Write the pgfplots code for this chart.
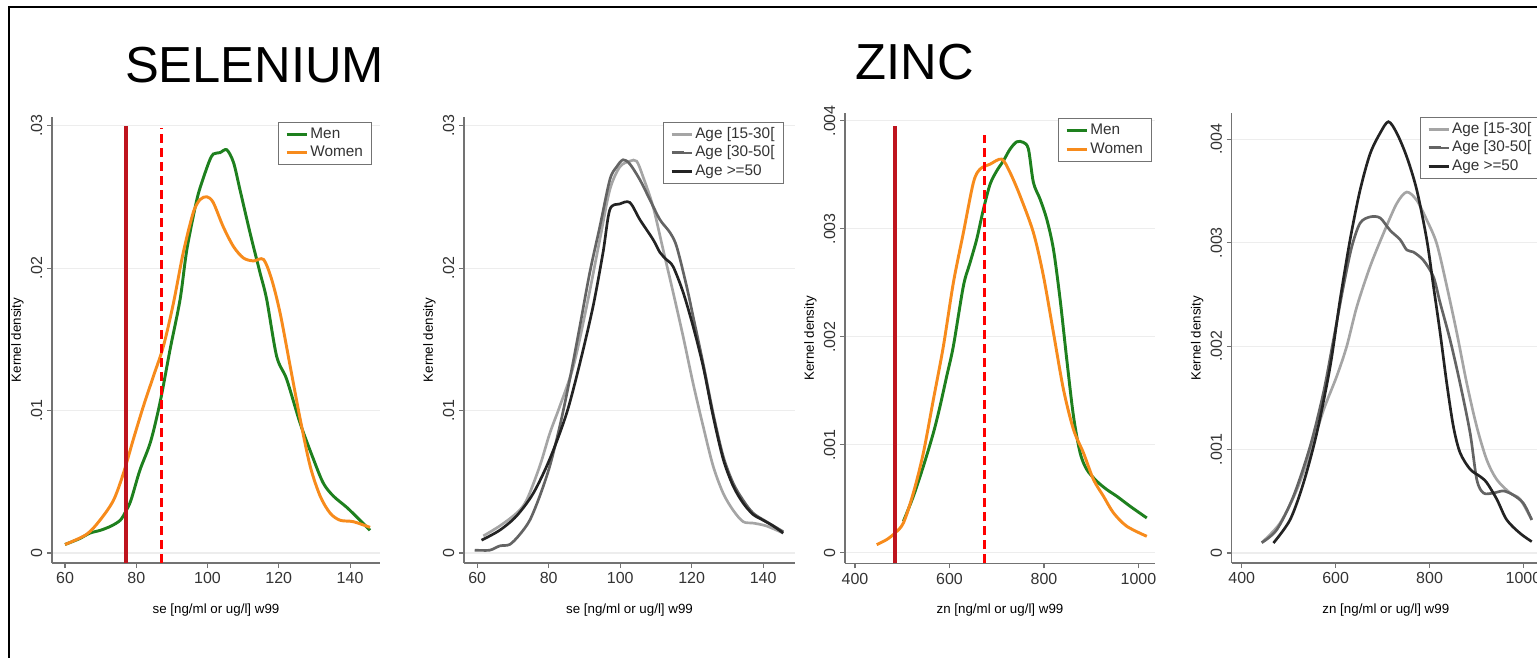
\documentclass[border=0pt]{standalone}
\usepackage{pgfplots}
\pgfplotsset{compat=1.18}
\usepackage{fontspec}
\setmainfont{Liberation Sans}
\definecolor{sgreen}{RGB}{30,128,30}
\definecolor{sorange}{RGB}{247,139,28}
\definecolor{sdarkred}{RGB}{190,20,30}
\definecolor{sred}{RGB}{255,0,0}
\definecolor{glight}{RGB}{165,165,165}
\definecolor{gmed}{RGB}{100,100,100}
\definecolor{gdark}{RGB}{35,35,35}
\pgfplotsset{
 stata/.style={
  scale only axis,
  axis x line*=bottom, axis y line*=left,
  axis line style={draw=black!55, line width=0.8pt, -},
  tick align=outside, major tick length=3.75pt,
  tick style={draw=black!55, line width=0.8pt},
  ymajorgrids, major grid style={draw=black!7, line width=0.8pt},
  enlargelimits=false,
  scaled x ticks=false, scaled y ticks=false,
  ticklabel style={font=\fontsize{12}{13}\selectfont, text=black!80},
  yticklabel style={rotate=90, anchor=south},
  label style={font=\fontsize{12}{13}\selectfont, text=black!80},
  every axis x label/.style={at={(axis description cs:0.5,0)}, yshift=-35pt, anchor=center},
  every axis y label/.style={at={(axis description cs:0,0.5)}, xshift=-26pt, rotate=90, anchor=center},
  ylabel={Kernel density},
  legend style={draw=black!55, line width=0.8pt, fill=white, anchor=north west,
    font=\fontsize{11.5}{12}\selectfont, text=black!80, inner xsep=5pt, inner ysep=2pt,
    nodes={inner sep=1.5pt, text height=8.5pt, text depth=2.5pt}},
  legend cell align=left,
  legend image code/.code={\draw[#1, line width=2.2pt] (0pt,0pt) -- (9pt,0pt); \path (0pt,0pt) -- (15pt,0pt);},
  every axis plot/.append style={line width=2.2pt, smooth, tension=0.5},
 },
}
\begin{document}
\begin{tikzpicture}
\useasboundingbox (0,0) rectangle (1152.75pt,492.75pt);
\clip (0,0) rectangle (1152.75pt,492.75pt);
\draw[line width=1.5pt] (6.975pt,-5pt) -- (6.975pt,487.7pt) -- (1160pt,487.7pt);
\node[font=\fontsize{38}{40}\selectfont] at (190.9pt,444pt) {SELENIUM};
\node[font=\fontsize{38}{40}\selectfont] at (686.25pt,446pt) {ZINC};

% Panel 1
\begin{axis}[stata, at={(39pt,70.5pt)}, anchor=south west, width=246pt, height=334.5pt,
  xmin=56.35, xmax=148.4, ymin=-0.0007, ymax=0.0306,
  xtick={60,80,100,120,140}, xticklabels={60,80,100,120,140},
  ytick={0,0.01,0.02,0.03}, yticklabels={0,.01,.02,.03},
  xlabel={se [ng/ml or ug/l] w99},
  legend style={at={(0.69,0.9895)}}]
\addplot[sgreen] coordinates {(60,0.0006)(64,0.0010)(67,0.0014)(70,0.0016)(73,0.0019)(75.5,0.0023)(77,0.0029)(78.5,0.0037)(81,0.0058)(84,0.0078)(86.7,0.0106)(89.5,0.0143)(92.3,0.0178)(94.2,0.0213)(97,0.0248)(98.8,0.0263)(100.5,0.0275)(101.6,0.0280)(103.5,0.0281)(105.4,0.0283)(107.3,0.0274)(109.1,0.0255)(111.9,0.0225)(114.7,0.0197)(116.6,0.0178)(119.4,0.0138)(122.2,0.0122)(126,0.0091)(129.7,0.0066)(132.5,0.0049)(135.3,0.0040)(139.1,0.0032)(142.8,0.0023)(145.6,0.0016)};
\addlegendentry{Men}
\addplot[sorange] coordinates {(60,0.0006)(66,0.0013)(69.8,0.0023)(73.6,0.0037)(76.4,0.0056)(79.2,0.0080)(82,0.0103)(84.8,0.0124)(87.6,0.0145)(90.4,0.0175)(93.2,0.0211)(96,0.0239)(97.9,0.0248)(99.8,0.0250)(101.6,0.0246)(104.4,0.0229)(107.3,0.0215)(110.1,0.0207)(112.9,0.0205)(115.7,0.0206)(118,0.0192)(120.4,0.0168)(123.2,0.0131)(126,0.0094)(128.8,0.0061)(131.6,0.0040)(134.4,0.0028)(137.2,0.0023)(140.9,0.0022)(145.6,0.0018)};
\addlegendentry{Women}
\addplot[sdarkred, line width=3pt, sharp plot, forget plot] coordinates {(77.1,-0.0007)(77.1,0.0300)};
\addplot[sred, line width=2.4pt, dash pattern=on 7pt off 3.5pt, sharp plot, forget plot] coordinates {(87.1,-0.0007)(87.1,0.0298)};
\end{axis}

% Panel 2
\begin{axis}[stata, at={(348pt,70.5pt)}, anchor=south west, width=248.25pt, height=334.5pt,
  xmin=56.3, xmax=148.9, ymin=-0.0007, ymax=0.0306,
  xtick={60,80,100,120,140}, xticklabels={60,80,100,120,140},
  ytick={0,0.01,0.02,0.03}, yticklabels={0,.01,.02,.03},
  xlabel={se [ng/ml or ug/l] w99},
  legend style={at={(0.602,0.9895)}}]
\addplot[glight, line width=2pt] coordinates {(61.7,0.0012)(66.3,0.0019)(71,0.0028)(73.8,0.0037)(77.5,0.0061)(80.3,0.0084)(83.1,0.0103)(86.9,0.0131)(90.6,0.0173)(94.3,0.0220)(97.1,0.0255)(99.9,0.0271)(102.7,0.0275)(104.6,0.0275)(106.4,0.0264)(109.2,0.0243)(112,0.0213)(114.8,0.0183)(117.6,0.0152)(120.4,0.0119)(123.2,0.0089)(126,0.0061)(128.8,0.0042)(131.6,0.0030)(134.4,0.0022)(137.2,0.0021)(140.9,0.0019)(145.6,0.0014)};
\addlegendentry{Age [15-30[}
\addplot[gmed, line width=2pt] coordinates {(59.3,0.0002)(63.5,0.0002)(66.3,0.0005)(69.1,0.0006)(71.9,0.0013)(74.7,0.0023)(77.5,0.0040)(80.3,0.0061)(83.1,0.0089)(85.9,0.0122)(88.7,0.0159)(91.5,0.0197)(94.3,0.0229)(97.1,0.0262)(99,0.0271)(100.8,0.0276)(102.7,0.0273)(105.5,0.0262)(108.3,0.0248)(111.1,0.0234)(113.9,0.0225)(115.8,0.0215)(118.6,0.0187)(120.4,0.0166)(123.2,0.0133)(126,0.0098)(128.8,0.0068)(131.6,0.0049)(134.4,0.0037)(137.2,0.0028)(140.9,0.0022)(145.6,0.0015)};
\addlegendentry{Age [30-50[}
\addplot[gdark, line width=2pt] coordinates {(61.2,0.0009)(66.3,0.0016)(71,0.0026)(75.7,0.0042)(80.3,0.0066)(85,0.0098)(88.7,0.0133)(92.4,0.0173)(95.2,0.0211)(97.1,0.0241)(99.9,0.0245)(102.7,0.0246)(105.5,0.0234)(109.2,0.0220)(111.1,0.0211)(112.9,0.0206)(114.8,0.0201)(117.6,0.0183)(120.4,0.0159)(123.2,0.0131)(126,0.0096)(128.8,0.0066)(131.6,0.0047)(134.4,0.0035)(137.2,0.0027)(140,0.0023)(142.8,0.0019)(145.6,0.0014)};
\addlegendentry{Age >=50}
\end{axis}

% Panel 3
\begin{axis}[stata, at={(633.75pt,70.3pt)}, anchor=south west, width=232.5pt, height=337.5pt,
  xmin=378.8, xmax=1035, ymin=-0.0000954, ymax=0.00407,
  xtick={400,600,800,1000}, xticklabels={400,600,800,1000},
  ytick={0,0.001,0.002,0.003,0.004}, yticklabels={0,.001,.002,.003,.004},
  xlabel={zn [ng/ml or ug/l] w99},
  legend style={at={(0.688,0.989)}}]
\addplot[sgreen] coordinates {(502.4,0.000293)(523.5,0.000525)(544.7,0.000803)(565.9,0.001112)(580,0.001359)(594.1,0.001637)(608.2,0.001915)(629.4,0.002471)(643.5,0.002687)(657.6,0.002904)(671.8,0.003182)(685.9,0.003413)(700,0.003537)(714.1,0.003630)(728.2,0.003738)(742.4,0.003806)(756.5,0.003800)(767.1,0.003738)(777.6,0.003429)(791.8,0.003274)(805.9,0.003089)(820,0.002811)(834.1,0.002348)(848.2,0.001792)(862.4,0.001266)(876.5,0.000927)(890.6,0.000772)(911.8,0.000664)(932.9,0.000587)(954.1,0.000525)(982.4,0.000432)(1017.6,0.000324)};
\addlegendentry{Men}
\addplot[sorange] coordinates {(445.9,0.000077)(467.1,0.000124)(484.7,0.000185)(502.4,0.000278)(523.5,0.000556)(544.7,0.000927)(565.9,0.001421)(587.1,0.001915)(608.2,0.002502)(629.4,0.002965)(650.6,0.003429)(664.7,0.003553)(685.9,0.003599)(710.6,0.003645)(728.2,0.003521)(749.4,0.003305)(777.6,0.002965)(798.8,0.002564)(820,0.002039)(841.2,0.001514)(862.4,0.001143)(883.5,0.000927)(904.7,0.000680)(925.9,0.000525)(947.1,0.000371)(975.3,0.000247)(1017.6,0.000154)};
\addlegendentry{Women}
\addplot[sdarkred, line width=3pt, sharp plot, forget plot] coordinates {(485,-0.0000954)(485,0.00395)};
\addplot[sred, line width=2.4pt, dash pattern=on 7pt off 3.5pt, sharp plot, forget plot] coordinates {(673.5,-0.0000954)(673.5,0.00387)};
\end{axis}

% Panel 4
\begin{axis}[stata, at={(923.8pt,70.5pt)}, anchor=south west, width=231.1pt, height=337.3pt,
  xmin=378.7, xmax=1035, ymin=-0.0000967, ymax=0.004252,
  xtick={400,600,800,1000}, xticklabels={400,600,800,1000},
  ytick={0,0.001,0.002,0.003,0.004}, yticklabels={0,.001,.002,.003,.004},
  xlabel={zn [ng/ml or ug/l] w99},
  legend style={at={(0.611,0.9925)}}]
\addplot[glight, line width=2pt] coordinates {(442.6,0.0001)(481.7,0.00029)(517.2,0.00061)(545.6,0.00097)(574,0.00138)(602.4,0.00171)(623.7,0.0020)(645,0.00238)(673.4,0.00277)(701.8,0.00309)(730.2,0.00338)(751.5,0.00349)(772.8,0.00341)(794.1,0.00322)(815.4,0.00299)(836.7,0.00258)(858,0.00213)(879.3,0.00164)(900.6,0.00122)(921.9,0.0009)(943.2,0.00071)(971.6,0.00058)(992.9,0.00052)(1017.7,0.00032)};
\addlegendentry{Age [15-30[}
\addplot[gmed, line width=2pt] coordinates {(442.6,0.0001)(474.6,0.000225)(510,0.000547)(545.6,0.00103)(574,0.00155)(595.3,0.00206)(616.6,0.00258)(634.3,0.00296)(652.1,0.00319)(673.4,0.00325)(694.7,0.00324)(716,0.00312)(737.3,0.00303)(751.5,0.00293)(765.7,0.00291)(787,0.00283)(808.3,0.00267)(822.5,0.00242)(843.8,0.00206)(865,0.00164)(886.4,0.00116)(900.6,0.00071)(914.8,0.00058)(936,0.00058)(957.4,0.0006)(978.6,0.00056)(1000,0.00048)(1017.7,0.00032)};
\addlegendentry{Age [30-50[}
\addplot[gdark, line width=2pt] coordinates {(467.5,0.0000966)(503,0.000322)(531.4,0.000676)(559.8,0.00116)(588.2,0.0018)(609.5,0.00245)(630.8,0.00303)(652.1,0.00351)(673.4,0.00386)(694.7,0.00406)(712.4,0.00417)(730.2,0.00406)(751.5,0.00383)(772.8,0.00351)(794.1,0.00303)(808.3,0.00258)(822.5,0.00213)(836.7,0.00164)(850.9,0.00122)(865,0.00097)(886.4,0.00081)(907.7,0.00074)(921.9,0.00068)(943.2,0.00052)(964.5,0.00032)(992.9,0.00019)(1017.7,0.00011)};
\addlegendentry{Age >=50}
\end{axis}
\end{tikzpicture}
\end{document}
